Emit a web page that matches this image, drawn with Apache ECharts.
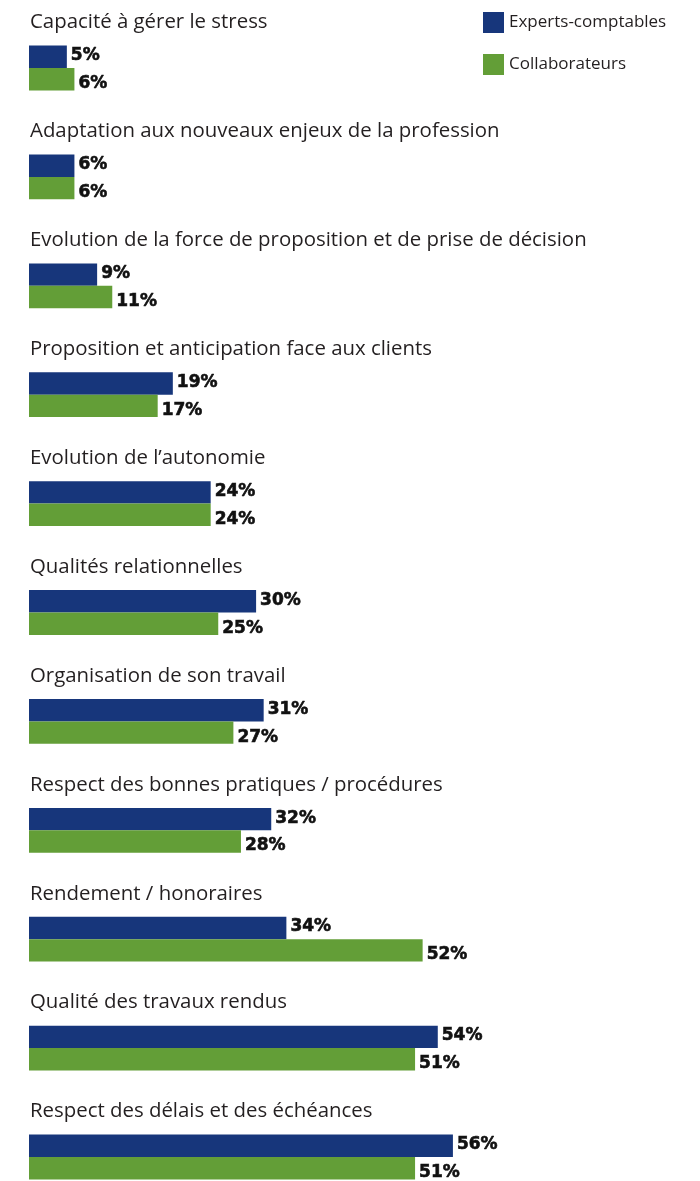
<!DOCTYPE html>
<html>
<head>
<meta charset="utf-8">
<script src="https://cdn.jsdelivr.net/npm/echarts@6/dist/echarts.min.js"></script>
<style>
  html, body { margin: 0; padding: 0; background: #fff; }
  #chart { width: 700px; height: 1181px; }
</style>
</head>
<body>
<div id="chart"></div>
<script>
const categories = [
  'Capacité à gérer le stress',
  'Adaptation aux nouveaux enjeux de la profession',
  'Evolution de la force de proposition et de prise de décision',
  'Proposition et anticipation face aux clients',
  'Evolution de l’autonomie',
  'Qualités relationnelles',
  'Organisation de son travail',
  'Respect des bonnes pratiques / procédures',
  'Rendement / honoraires',
  'Qualité des travaux rendus',
  'Respect des délais et des échéances'
];
const expertsComptables = [5, 6, 9, 19, 24, 30, 31, 32, 34, 54, 56];
const collaborateurs = [6, 6, 11, 17, 24, 25, 27, 28, 52, 51, 51];
const seriesNames = ['Experts-comptables', 'Collaborateurs'];

const BLUE = '#17367b';
const GREEN = '#639e37';
const TEXT = '#231f20';

// one band per question; bars sit in the middle, the question text above them
const BAND = 108.9;
const chart = echarts.init(document.getElementById('chart'), null, { renderer: 'canvas' });

function valueLabel(dy) {
  return {
    show: true,
    position: 'right',
    distance: 4,
    offset: [0, dy],
    formatter: '{c}%',
    fontFamily: 'DejaVu Sans',
    fontWeight: 'bold',
    fontSize: 17,
    color: '#111',
    textBorderColor: '#111',
    textBorderWidth: 0.6
  };
}

chart.setOption({
  animation: false,
  backgroundColor: '#fff',
  legend: {
    orient: 'vertical',
    left: 483,
    top: 12,
    padding: 0,
    itemWidth: 21,
    itemHeight: 21,
    itemGap: 21,
    icon: 'rect',
    textStyle: { fontFamily: 'Open Sans', fontSize: 17, color: TEXT },
    data: seriesNames
  },
  grid: {
    left: 29,
    top: 68 - BAND / 2,
    width: 80 * 7.57,
    height: BAND * categories.length,
    outerBoundsMode: 'none'
  },
  xAxis: {
    type: 'value',
    min: 0,
    max: 80,
    show: false
  },
  yAxis: {
    type: 'category',
    inverse: true,
    data: categories,
    axisLine: { show: false },
    axisTick: { show: false },
    splitLine: { show: false },
    axisLabel: {
      inside: true,
      interval: 0,
      margin: 1,
      fontFamily: 'Open Sans',
      fontSize: 20.4,
      color: TEXT,
      verticalAlign: 'bottom',
      lineHeight: 91
    }
  },
  series: [
    {
      name: seriesNames[0],
      type: 'bar',
      data: expertsComptables,
      barWidth: 22.4,
      barGap: '0%',
      itemStyle: { color: BLUE },
      label: valueLabel(-1)
    },
    {
      name: seriesNames[1],
      type: 'bar',
      data: collaborateurs,
      barWidth: 22.4,
      barGap: '0%',
      itemStyle: { color: GREEN },
      label: valueLabel(4.5)
    }
  ]
});
</script>
</body>
</html>
